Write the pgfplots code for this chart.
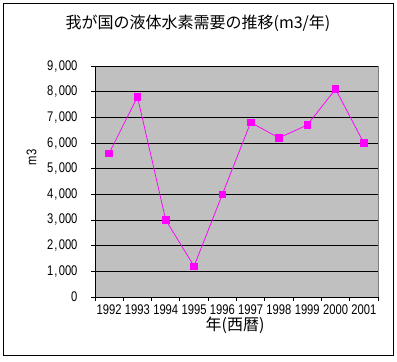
\documentclass[border=0pt]{standalone}
\usepackage{fontspec}
\setmainfont{Liberation Sans}[FakeStretch=0.8]
\newfontfamily\cjk{Noto Sans CJK JP}
\usepackage{pgfplots}
\pgfplotsset{compat=1.18}
\definecolor{plotbg}{RGB}{192,192,192}
\definecolor{mag}{RGB}{255,0,255}
\definecolor{edge}{RGB}{128,128,128}
\begin{document}
\begin{tikzpicture}
\useasboundingbox (0pt,0pt) rectangle (397pt,362pt);
\draw[black, line width=1pt] (3.5pt,6pt) rectangle (393.5pt,358.5pt);
\node[font=\cjk\fontsize{16}{18}\selectfont, anchor=center] at (198pt,338.5pt) {我が国の液体水素需要の推移(m3/年)};
\begin{axis}[
  at={(95pt,65pt)}, anchor=south west,
  scale only axis, width=283pt, height=231pt,
  xmin=1991.5, xmax=2001.5, ymin=0, ymax=9000,
  axis x line*=bottom, axis y line*=left,
  x axis line style={-, black, line width=0.8pt},
  y axis line style={-, black, line width=0.8pt},
  axis background/.style={fill=plotbg, draw=edge, line width=0.8pt},
  xtick={1992,1993,...,2001},
  minor xtick={1991.5,1992.5,...,2001.5},
  major x tick style={draw=none},
  minor x tick style={black, line width=0.8pt},
  minor tick length=4pt,
  ytick={0,1000,...,9000},
  major y tick style={black, line width=0.8pt},
  major tick length=4pt,
  tick align=outside,
  ymajorgrids,
  major grid style={black, line width=0.8pt},
  /pgf/number format/assume math mode=true,
  ticklabel style={font=\fontsize{14}{15}\selectfont},
  xticklabel style={/pgf/number format/1000 sep={}},
  yticklabel style={/pgf/number format/1000 sep={\hspace{1.2pt},\hspace{1.2pt}}, xshift=-10pt},
  xlabel={年(西暦)},
  ylabel={m3},
  xlabel style={font=\cjk\fontsize{16}{18}\selectfont, at={(axis description cs:0.495,-0.121)}, anchor=center},
  ylabel style={font=\fontsize{14}{15}\selectfont, at={(axis description cs:-0.224,0.604)}, anchor=center},
]
\addplot[mag, line width=0.75pt, mark=square*, mark size=3.3pt, mark options={fill=mag, draw=mag}] coordinates {
(1992,5600) (1993,7800) (1994,3000) (1995,1200) (1996,4000)
(1997,6800) (1998,6200) (1999,6700) (2000,8100) (2001,6000)
};
\end{axis}
\end{tikzpicture}
\end{document}
